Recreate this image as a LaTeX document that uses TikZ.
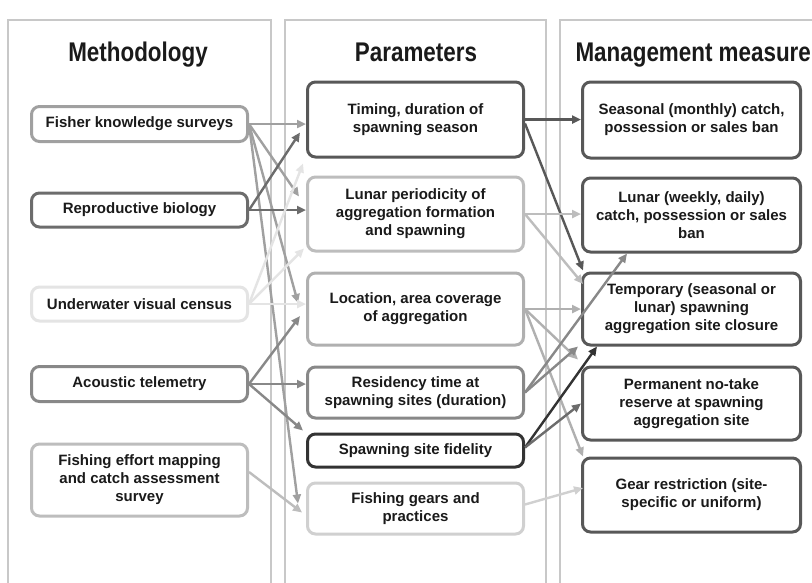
\documentclass[tikz,border=0pt]{standalone}
\usepackage{fontspec}
\setmainfont{Liberation Sans}
\newfontfamily\headfont[FakeStretch=0.83]{Liberation Sans}
\usetikzlibrary{arrows.meta, positioning}
\definecolor{panelgray}{HTML}{C8C8C8}
\definecolor{faint}{HTML}{E4E4E4}
\definecolor{pale}{HTML}{D0D0D0}
\definecolor{light}{HTML}{BDBDBD}
\definecolor{soft}{HTML}{B0B0B0}
\definecolor{mid}{HTML}{A0A0A0}
\definecolor{medium}{HTML}{888888}
\definecolor{deep}{HTML}{6C6C6C}
\definecolor{dark}{HTML}{585858}
\definecolor{darkest}{HTML}{333333}
\definecolor{ink}{HTML}{1A1A1A}
\tikzstyle{box} = [draw,fill=white,rounded corners=8pt,line width=3pt,align=center,minimum width=216pt,text=ink,font=\bfseries\fontsize{15}{18}\selectfont,inner sep=2pt]
\tikzstyle{head} = [anchor=base,text=ink,font=\headfont\bfseries\fontsize{27}{30}\selectfont]
\tikzstyle{link} = [line width=2.4pt,-{Triangle[length=9pt,width=8pt]}]

\begin{document}
\begin{tikzpicture}[x=1pt,y=-1pt,node distance=90pt]
	\useasboundingbox (0,0) rectangle (812,582);
	\clip (0,0) rectangle (812,582);
	\fill[white] (0,0) rectangle (812,582);
	\draw[panelgray,line width=1.8pt] (8,20) rectangle (271,600);
	\draw[panelgray,line width=1.8pt] (285,20) rectangle (546,600);
	\draw[panelgray,line width=1.8pt] (560,20) rectangle (840,600);

	\node [head](hmeth) at (138,61) {Methodology};
	\node [head](hpar) at (416,61) {Parameters};
	\node [head,anchor=base west](hman) at (572,61) {Management measure};

	% methodology
	\node [box,draw=mid,minimum height=35pt](fks) at (139.5,124) {Fisher knowledge surveys};
	\node [box,draw=deep,minimum height=34pt,below of=fks,yshift=4pt](rb) {Reproductive biology};
	\node [box,draw=faint,minimum height=34pt,below of=rb,yshift=-4pt](uvc) {Underwater visual census};
	\node [box,draw=medium,minimum height=35pt,below of=uvc,yshift=10pt](at) {Acoustic telemetry};
	\node [box,draw=light,minimum height=72pt,below of=at,yshift=-6pt](fem) {Fishing effort mapping\\and catch assessment\\survey};

	% parameters
	\node [box,draw=dark,minimum height=75pt](tim) at (415.5,119.5) {Timing, duration of\\spawning season};
	\node [box,draw=light,minimum height=74pt,below of=tim,yshift=-4.5pt](lun) {Lunar periodicity of\\aggregation formation\\and spawning};
	\node [box,draw=soft,minimum height=72pt,below of=lun,yshift=-5pt](loc) {Location, area coverage\\of aggregation};
	\node [box,draw=medium,minimum height=51pt,below of=loc,yshift=6.5pt](res) {Residency time at\\spawning sites (duration)};
	\node [box,draw=darkest,minimum height=33pt,below of=res,yshift=32pt](fid) {Spawning site fidelity};
	\node [box,draw=pale,minimum height=51pt,below of=fid,yshift=32pt](gear) {Fishing gears and\\practices};

	% management measures
	\node [box,draw=dark,minimum height=76pt,minimum width=218pt](sea) at (691.5,120) {Seasonal (monthly) catch,\\possession or sales ban};
	\node [box,draw=dark,minimum height=74pt,minimum width=218pt,below of=sea,yshift=-5pt](lw) {Lunar (weekly, daily)\\catch, possession or sales\\ban};
	\node [box,draw=dark,minimum height=72pt,minimum width=218pt,below of=lw,yshift=-4pt](tmp) {Temporary (seasonal or\\lunar) spawning\\aggregation site closure};
	\node [box,draw=dark,minimum height=73pt,minimum width=218pt,below of=tmp,yshift=-4.5pt](perm) {Permanent no-take\\reserve at spawning\\aggregation site};
	\node [box,draw=dark,minimum height=74pt,minimum width=218pt,below of=perm,yshift=-1.5pt](gr) {Gear restriction (site-\\specific or uniform)};

	% methodology -> parameters
	\draw[link,mid](fks.east)--(fks.east -| tim.west);
	\draw[link,mid](fks.east)--([xshift=-7pt,yshift=-21pt]lun.north west);
	\draw[link,mid](fks.east)--([xshift=-8pt,yshift=6pt]loc.west);
	\draw[link,mid](fks.east)--([xshift=-8pt,yshift=5pt]gear.west);
	\draw[link,deep](rb.east)--([xshift=-6pt,yshift=-13pt]tim.west);
	\draw[link,deep](rb.east)--(rb.east -| lun.west);
	\draw[link,faint](uvc.east)--([xshift=-3pt,yshift=-5pt]tim.south west);
	\draw[link,faint](uvc.east)--([xshift=-2pt,yshift=4pt]lun.south west);
	\draw[link,faint](uvc.east)--(uvc.east -| loc.west);
	\draw[link,medium](at.east)--([xshift=-6pt,yshift=-7pt]loc.west);
	\draw[link,medium](at.east)--(at.east -| res.west);
	\draw[link,medium](at.east)--([xshift=-3pt,yshift=2pt]fid.north west);
	\draw[link,light]([yshift=8pt]fem.east)--([xshift=-4pt,yshift=-4pt]gear.west);

	% parameters -> management measures
	\draw[link,dark](tim.east)--(tim.east -| sea.west);
	\draw[link,dark]([yshift=-4pt]tim.east)--([xshift=2pt,yshift=1pt]tmp.north west);
	\draw[link,light](lun.east)--(lun.east -| lw.west);
	\draw[link,light](lun.east)--([xshift=2pt,yshift=25pt]tmp.west);
	\draw[link,soft](loc.east)--(loc.east -| tmp.west);
	\draw[link,soft](loc.east)--([xshift=-3pt,yshift=6pt]perm.north west);
	\draw[link,soft](loc.east)--([xshift=2pt]gr.north west);
	\draw[link,medium](res.east)--([xshift=46pt]lw.south west);
	\draw[link,medium](res.east)--([xshift=-3pt]tmp.south west);
	\draw[link,darkest]([yshift=3pt]fid.east)--([xshift=16pt]tmp.south west);
	\draw[link,deep]([yshift=3pt]fid.east)--(perm.west);
	\draw[link,pale]([yshift=4pt]gear.east)--([xshift=2pt,yshift=7pt]gr.west);
\end{tikzpicture}
\end{document}
